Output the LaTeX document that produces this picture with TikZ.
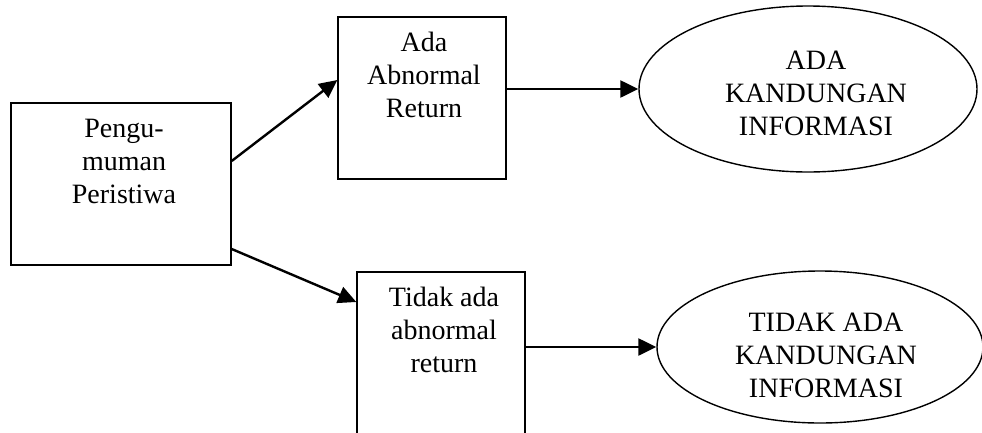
\documentclass[tikz,border=0pt]{standalone}
\usepackage{fontspec}
\setmainfont{Liberation Serif}
\usetikzlibrary{arrows.meta,shapes.geometric}
\begin{document}
\begin{tikzpicture}[x=1pt,y=-1pt,
  box/.style={draw,line width=1.4pt,inner sep=0pt,minimum height=162pt},
  oval/.style={draw,ellipse,line width=1.4pt,inner sep=0pt},
  txt/.style={align=center,anchor=base,inner sep=0pt,
    font=\fontsize{28}{33}\selectfont},
  arr/.style={line width=2.4pt,-{Triangle[length=18pt,width=17pt]}}]
\useasboundingbox (0,0) rectangle (982,432);

% boxes
\node[box,minimum width=220pt] (P) at (121,184) {};
\node[box,minimum width=168pt] (A) at (422,98) {};
\node[box,minimum width=168pt] (T) at (441,353) {};

% outcome ellipses
\node[oval,minimum width=338pt,minimum height=166pt] (E1) at (808,89) {};
\node[oval,minimum width=326pt,minimum height=152pt] (E2) at (820,347) {};

% labels (base anchor sits on the last line)
\node[txt] (tP) at (124,203) {Pengu-\\muman\\Peristiwa};
\node[txt] (tA) at (424,117) {Ada\\Abnormal\\Return};
\node[txt] (tT) at (444,372) {Tidak ada\\abnormal\\return};
\node[txt] (tE1) at (816,135) {ADA\\KANDUNGAN\\INFORMASI};
\node[txt] (tE2) at (826,397) {TIDAK ADA\\KANDUNGAN\\INFORMASI};

% connectors
\draw[arr] ([yshift=23pt]P.east) -- ([yshift=18pt]A.west);
\draw[arr] ([yshift=-65pt]P.east) -- ([yshift=51pt]T.west);
\draw[arr] (A.east |- E1.west) -- (E1.west);
\draw[arr] (T.east |- E2.west) -- (E2.west);
\end{tikzpicture}
\end{document}
